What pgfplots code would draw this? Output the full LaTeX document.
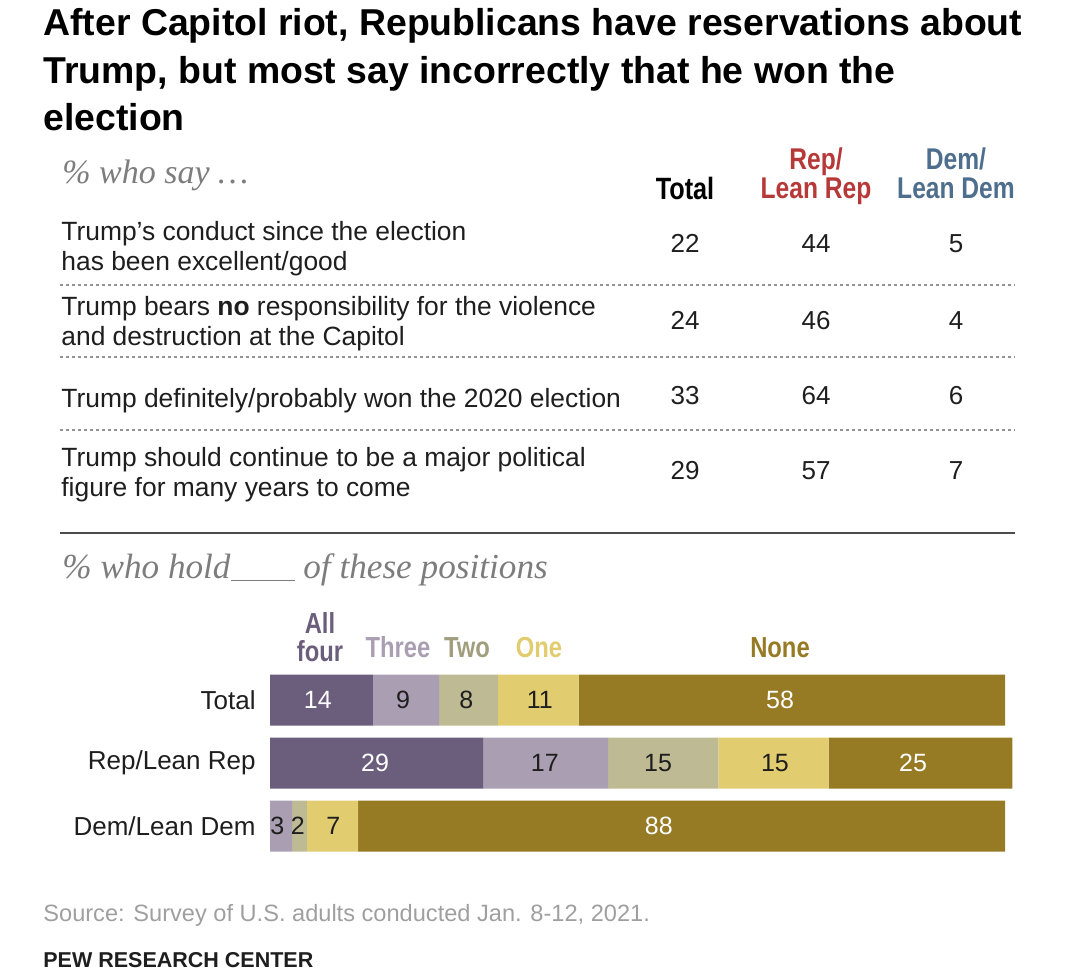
\documentclass[border=0pt]{standalone}
\usepackage{fontspec}
\setmainfont{Liberation Sans}
\newfontfamily\condb{Liberation Sans}[FakeStretch=0.82]
\newfontfamily\serifit{Liberation Serif}
\usepackage{pgfplots}
\usepackage{pgfplotstable}
\pgfplotsset{compat=1.18}
\definecolor{cAll}{RGB}{106,94,124}
\definecolor{cThree}{RGB}{170,158,178}
\definecolor{cTwo}{RGB}{190,186,148}
\definecolor{cOne}{RGB}{226,204,112}
\definecolor{cNone}{RGB}{150,122,36}
\definecolor{cRep}{RGB}{183,56,56}
\definecolor{cDem}{RGB}{78,110,142}
\definecolor{cGrayTxt}{RGB}{125,125,125}
\definecolor{cDark}{RGB}{30,30,30}

\pgfplotstableread{
y allfour three two one none
0 14 9 8 11 58
1 29 17 15 15 25
2 0 3 2 7 88
}\bars

\pgfplotstableread{
x y lab
6.5 0 14
69.4 0 58
14.3 1 29
87.5 1 25
52.9 2 88
}\whitelabels

\pgfplotstableread{
x y lab
18.1 0 9
26.7 0 8
36.7 0 11
37.4 1 17
52.8 1 15
68.7 1 15
1.0 2 3
3.8 2 2
8.6 2 7
}\darklabels

\begin{document}
\begin{tikzpicture}[x=0.5pt,y=-0.5pt]
\path (0,0) rectangle (1080,971);
% title
\begin{scope}[every node/.style={anchor=base west, inner sep=0pt, font=\bfseries\fontsize{18.7}{24}\selectfont}]
\node at (43,35) {After Capitol riot, Republicans have reservations about};
\node at (43,83) {Trump, but most say incorrectly that he won the};
\node at (43,130) {election};
\end{scope}
% subtitle
\node[anchor=base west, inner sep=0pt, text=cGrayTxt, font=\serifit\itshape\fontsize{17}{19}\selectfont] at (62,183) {\% who say \dots};
% headers
\node[anchor=base, inner sep=0pt, font=\condb\bfseries\fontsize{15.4}{18}\selectfont] at (685,199) {Total};
\begin{scope}[every node/.style={anchor=south, inner sep=0pt, text depth=0pt, align=center, font=\condb\bfseries\fontsize{15}{14.5}\selectfont}]
\node[text=cRep] at (816,199) {Rep/\\Lean Rep};
\node[text=cDem] at (956,199) {Dem/\\Lean Dem};
\end{scope}
% rows
\begin{scope}[every node/.style={anchor=base west, inner sep=0pt, font=\fontsize{13.2}{15}\selectfont, text=cDark}]
\node at (61,240) {Trump’s conduct since the election};
\node at (61,270) {has been excellent/good};
\node at (61,315) {Trump bears \textbf{no} responsibility for the violence};
\node at (61,345) {and destruction at the Capitol};
\node at (61,407) {Trump definitely/probably won the 2020 election};
\node at (61,466) {Trump should continue to be a major political};
\node at (61,496) {figure for many years to come};
\end{scope}
\begin{scope}[every node/.style={anchor=base, inner sep=0pt, font=\fontsize{13}{15}\selectfont, text=cDark}]
\node at (685,252) {22}; \node at (816,252) {44}; \node at (956,252) {5};
\node at (685,329) {24}; \node at (816,329) {46}; \node at (956,329) {4};
\node at (685,404) {33}; \node at (816,404) {64}; \node at (956,404) {6};
\node at (685,479) {29}; \node at (816,479) {57}; \node at (956,479) {7};
\end{scope}
\foreach \yy in {285,357,430}{
  \draw[gray!85, line width=0.7pt, dash pattern=on 1.5pt off 1.5pt] (60,\yy) -- (1015,\yy);
}
\draw[gray!60!black, line width=0.8pt] (60,533) -- (1015,533);
% second subtitle
\node[anchor=base west, inner sep=0pt, text=cGrayTxt, font=\serifit\itshape\fontsize{17.6}{19}\selectfont] at (62,578) {\% who hold\underline{\hspace{32pt}} of these positions};
% legend labels
\begin{scope}[every node/.style={anchor=base, inner sep=0pt, font=\condb\bfseries\fontsize{14.5}{17}\selectfont}]
\node[text=cAll, align=center, anchor=south, text depth=0pt, font=\condb\bfseries\fontsize{14.5}{14}\selectfont] at (320,662) {All\\four};
\node[text=cThree] at (398,657) {Three};
\node[text=cTwo!85!black] at (467,657) {Two};
\node[text=cOne] at (539,657) {One};
\node[text=cNone] at (780,657) {None};
\end{scope}
% bars
\begin{axis}[
  at={(135pt,-334.25pt)}, anchor=north west,
  scale only axis, width=367.5pt, height=94.5pt,
  xmin=0, xmax=100, ymin=-0.5, ymax=2.5, y dir=reverse,
  xbar stacked, bar width=25.5pt, clip=false,
  axis line style={draw=none}, major tick style={draw=none},
  xtick=\empty, ytick={0,1,2},
  yticklabels={Total, Rep/Lean Rep, Dem/Lean Dem},
  yticklabel style={anchor=east, inner sep=0pt, xshift=-7pt, font=\fontsize{13}{15}\selectfont, text=cDark},
]
\addplot[fill=cAll, draw=none] table[x=allfour, y=y] {\bars};
\addplot[fill=cThree, draw=none] table[x=three, y=y] {\bars};
\addplot[fill=cTwo, draw=none] table[x=two, y=y] {\bars};
\addplot[fill=cOne, draw=none] table[x=one, y=y] {\bars};
\addplot[fill=cNone, draw=none] table[x=none, y=y] {\bars};
\end{axis}
\begin{axis}[
  at={(135pt,-334.25pt)}, anchor=north west,
  scale only axis, width=367.5pt, height=94.5pt,
  xmin=0, xmax=100, ymin=-0.5, ymax=2.5, y dir=reverse,
  hide axis, clip=false,
]
\addplot[draw=none, mark=none, nodes near coords, point meta=explicit symbolic,
  every node near coord/.append style={anchor=center, text=white, font=\fontsize{12.5}{15}\selectfont}]
  table[x=x, y=y, meta=lab] {\whitelabels};
\addplot[draw=none, mark=none, nodes near coords, point meta=explicit symbolic,
  every node near coord/.append style={anchor=center, text=cDark, font=\fontsize{12.5}{15}\selectfont}]
  table[x=x, y=y, meta=lab] {\darklabels};
\end{axis}
% footer
\node[anchor=base west, inner sep=0pt, text=gray!75, font=\fontsize{11.8}{13}\selectfont] at (43,921) {Source: Survey of U.S. adults conducted Jan. 8-12, 2021.};
\node[anchor=base west, inner sep=0pt, text=cDark, font=\bfseries\fontsize{10.75}{13}\selectfont] at (43,967) {PEW RESEARCH CENTER};
\pgfresetboundingbox
\path[use as bounding box] (0,0) rectangle (1080,971);
\end{tikzpicture}
\end{document}
